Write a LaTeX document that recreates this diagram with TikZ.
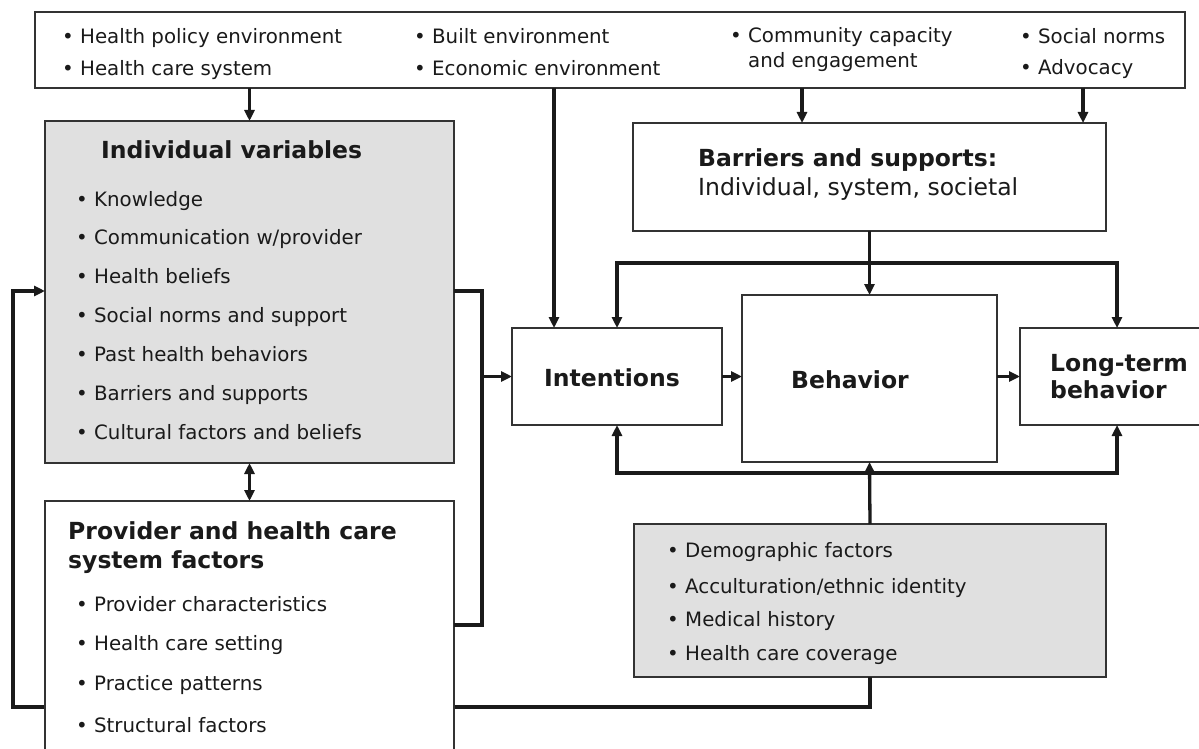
\documentclass[tikz,border=0pt]{standalone}
\usepackage{fontspec}
\setmainfont{DejaVu Sans}
\usetikzlibrary{arrows.meta}
\definecolor{ink}{HTML}{1A1A1A}
\definecolor{edge}{HTML}{333333}
\definecolor{panel}{HTML}{E0E0E0}
\tikzset{
  box/.style={draw=edge, line width=1.8pt, anchor=north west, inner sep=0pt, outer sep=0pt},
  item/.style={anchor=west, inner sep=0pt, text=ink, text height=14pt, text depth=0pt,
               font=\fontsize{19.8}{24}\selectfont},
  head/.style={anchor=west, inner sep=0pt, text=ink, text height=17pt, text depth=0pt,
               font=\fontsize{23.5}{29}\selectfont\bfseries},
  plain/.style={anchor=west, inner sep=0pt, text=ink, text height=17pt, text depth=0pt,
               font=\fontsize{23.5}{29}\selectfont},
  conn/.style={draw=ink, line width=3.3pt},
  arr/.style={conn, -{Triangle[length=11pt,width=10pt]}},
  dbl/.style={conn, {Triangle[length=11pt,width=10pt]}-{Triangle[length=11pt,width=10pt]}},
}
\newcommand{\bul}{•\ }
\begin{document}
\begin{tikzpicture}[x=1pt,y=-1pt]
\useasboundingbox (0,0) rectangle (1199,749);
\fill[white] (0,0) rectangle (1199,749);

% ---------- top environment box ----------
\node[box, minimum width=1150pt, minimum height=76pt] (top) at (35,12) {};
\node[item] (t1) at (62,37) {\bul Health policy environment};
\node[item] (t2) at (62,69) {\bul Health care system};
\node[item] (t3) at (414,37) {\bul Built environment};
\node[item] (t4) at (414,69) {\bul Economic environment};
\node[item] (t5) at (730,36) {\bul Community capacity};
\node[item] (t6) at (748,61) {and engagement};
\node[item] (t7) at (1020,37) {\bul Social norms};
\node[item] (t8) at (1020,68) {\bul Advocacy};

% ---------- individual variables ----------
\node[box, fill=panel, minimum width=409pt, minimum height=342pt] (ind) at (45,121) {};
\node[head] (indt) at (101,150) {Individual variables};
\node[item] (i1) at (76,199) {\bul Knowledge};
\node[item] (i2) at (76,237) {\bul Communication w/provider};
\node[item] (i3) at (76,276) {\bul Health beliefs};
\node[item] (i4) at (76,315) {\bul Social norms and support};
\node[item] (i5) at (76,354) {\bul Past health behaviors};
\node[item] (i6) at (76,393) {\bul Barriers and supports};
\node[item] (i7) at (76,432) {\bul Cultural factors and beliefs};

% ---------- barriers ----------
\node[box, minimum width=473pt, minimum height=108pt] (bar) at (633,123) {};
\node[head] (bart) at (698,158) {Barriers and supports:};
\node[plain] (bars) at (698,187) {Individual, system, societal};

% ---------- behaviour chain ----------
\node[box, minimum width=210pt, minimum height=97pt] (int) at (512,328) {};
\node[head, anchor=center] (intt) at (612,378) {Intentions};
\node[box, minimum width=255pt, minimum height=167pt] (beh) at (742,295) {};
\node[head, anchor=center] (beht) at (850,380) {Behavior};
\node[box, minimum width=194pt, minimum height=97pt] (lt) at (1020,328) {};
\node[head] (ltt1) at (1050,363) {Long-term};
\node[head] (ltt2) at (1050,390) {behavior};

% ---------- demographic box ----------
\node[box, fill=panel, minimum width=472pt, minimum height=153pt] (dem) at (634,524) {};
\node[item] (d1) at (667,550) {\bul Demographic factors};
\node[item] (d2) at (667,586) {\bul Acculturation/ethnic identity};
\node[item] (d3) at (667,619) {\bul Medical history};
\node[item] (d4) at (667,653) {\bul Health care coverage};

% ---------- feedback loop (behind provider box) ----------
\coordinate (lp1) at (13,707);
\coordinate (lp2) at (13,291);
\draw[arr] (dem.south) |- (lp1) -- (lp2) -- (ind.west |- lp2);

% ---------- provider box ----------
\node[box, fill=white, minimum width=409pt, minimum height=262pt] (prov) at (45,501) {};
\node[head] (pt1) at (68,531) {Provider and health care};
\node[head] (pt2) at (68,560) {system factors};
\node[item] (p1) at (76,604) {\bul Provider characteristics};
\node[item] (p2) at (76,643) {\bul Health care setting};
\node[item] (p3) at (76,683) {\bul Practice patterns};
\node[item] (p4) at (76,725) {\bul Structural factors};

% ---------- connectors ----------
\coordinate (xe) at (554,0);
\coordinate (xc) at (802,0);
\coordinate (xs) at (1083,0);
\draw[arr] (top.south -| ind.north) -- (ind.north);
\draw[arr] (top.south -| xe) -- (int.north -| xe);
\draw[arr] (top.south -| xc) -- (bar.north -| xc);
\draw[arr] (top.south -| xs) -- (bar.north -| xs);
\draw[dbl] (ind.south) -- (prov.north);

\coordinate (rb1) at (482,291);
\coordinate (rb2) at (482,625);
\draw[conn] (ind.east |- rb1) -- (rb1) -- (rb2) -- (prov.east |- rb2);
\draw[arr] (rb1 |- int.west) -- (int.west);

\coordinate (jt) at (869,263);
\coordinate (jb) at (869,473);
\draw[arr] (bar.south) -- (beh.north);
\draw[arr] (jt) -| (int.north);
\draw[arr] (jt) -| (lt.north);
\draw[arr] (int.east) -- (beh.west |- int.east);
\draw[arr] (beh.east |- lt.west) -- (lt.west);
\draw[arr] (dem.north) -- (beh.south);
\draw[arr] (jb) -| (int.south);
\draw[arr] (jb) -| (lt.south);
\end{tikzpicture}
\end{document}
